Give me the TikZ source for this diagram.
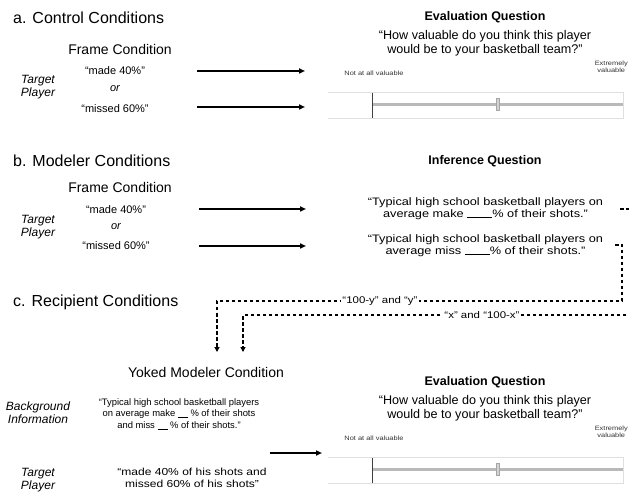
\documentclass[tikz,border=0pt]{standalone}
\usepackage{fontspec}
\setmainfont{Liberation Sans}
\newfontfamily\widefont{Liberation Sans}[FakeStretch=1.18]
\usetikzlibrary{arrows.meta,positioning}

\begin{document}
\begin{tikzpicture}[x=1pt,y=-1pt]
\useasboundingbox (0,0) rectangle (629,494);
\clip (0,0) rectangle (629,494);
\begin{scope}

\tikzstyle{head} = [anchor=west,inner sep=1pt,font=\fontsize{16}{18}\selectfont];
\tikzstyle{cond} = [inner sep=1pt,font=\fontsize{14}{16}\selectfont];
\tikzstyle{side} = [inner sep=1pt,align=center,font=\fontsize{12}{13}\selectfont\itshape];
\tikzstyle{frm} = [inner sep=1pt,font=\fontsize{11}{12}\selectfont];
\tikzstyle{qhead} = [inner sep=1pt,font=\fontsize{12.5}{14}\selectfont\bfseries];
\tikzstyle{quest} = [inner sep=1pt,align=center,font=\fontsize{12.6}{14.5}\selectfont];
\tikzstyle{infq} = [inner sep=1pt,align=center,font=\widefont\fontsize{10.8}{11.5}\selectfont];
\tikzstyle{bgq} = [inner sep=1pt,align=center,font=\fontsize{9.4}{11.5}\selectfont];
\tikzstyle{tinytext} = [inner sep=0.5pt,align=center,text=black!80,font=\widefont\fontsize{6.3}{7}\selectfont];
\tikzstyle{lab} = [fill=white,inner sep=1.5pt,font=\widefont\fontsize{9.7}{10}\selectfont];
\tikzstyle{bar} = [minimum width=295pt,minimum height=25pt,inner sep=0pt];
\tikzstyle{knob} = [draw=gray!70,fill=gray!35,minimum width=3pt,minimum height=12pt,inner sep=0pt];
\tikzstyle{flow} = [-{Triangle[length=6pt,width=5pt]},line width=1.5pt];
\tikzstyle{feed} = [-{Triangle[length=5pt,width=5pt]},line width=1.1pt,dash pattern=on 3.5pt off 2.5pt];

% a. control conditions
\node [head] (ha) at (12,18) {a. Control Conditions};
\node [cond] (frA) at (120,49) {Frame Condition};
\node [side] (tpA) at (38,87) {Target\\Player};
\node [frm] (madeA) at (115,71) {“made 40\%”};
\node [frm,font=\fontsize{11}{12}\selectfont\itshape] (orA) at (115,89) {or};
\node [frm] (missA) at (115,109) {“missed 60\%”};

\node [qhead] (evA) at (485,17) {Evaluation Question};
\node [quest,anchor=north] (qA) at ([yshift=-5pt]evA.south) {“How valuable do you think this player\\would be to your basketball team?”};
\node [tinytext] (notA) at (374,73) {Not at all valuable};
\node [tinytext,anchor=east] (extA) at (628.5,66.5) {Extremely\\valuable};
\node [bar] (sldA) at (475.5,105.5) {};
\draw [gray!25,thick] (sldA.north west) -- (sldA.north east) -- (sldA.south east) -- (sldA.south west);
\draw [gray!55,line width=2.5pt] ([xshift=45pt,yshift=1pt]sldA.west) -- ([yshift=1pt]sldA.east);
\draw [black!75,line width=1.2pt] ([xshift=45pt]sldA.north west) -- ([xshift=45pt]sldA.south west);
\node [knob] (knA) at ([xshift=22.5pt,yshift=1pt]sldA.center) {};

\coordinate (inA1) at (197,71);
\coordinate (outA1) at (305,71);
\coordinate (inA2) at (197,107);
\coordinate (outA2) at (305,107);
\draw [flow] (inA1) -- (outA1);
\draw [flow] (inA2) -- (outA2);

% b. modeler conditions
\node [head] (hb) at (12,161) {b. Modeler Conditions};
\node [cond] (frB) at (120,187) {Frame Condition};
\node [side] (tpB) at (38,227) {Target\\Player};
\node [frm] (madeB) at (116,210) {“made 40\%”};
\node [frm,font=\fontsize{11}{12}\selectfont\itshape] (orB) at (116,227) {or};
\node [frm] (missB) at (116,246) {“missed 60\%”};

\node [qhead] (infH) at (485,161) {Inference Question};
\node [infq] (inf1) at (485.5,208.5) {“Typical high school basketball players on\\average make \rule[-1pt]{25pt}{0.6pt}\% of their shots.”};
\node [infq] (inf2) at (485.5,245.5) {“Typical high school basketball players on\\average miss \rule[-1pt]{25pt}{0.6pt}\% of their shots.”};

\coordinate (inB1) at (199,209);
\coordinate (outB1) at (306,209);
\coordinate (inB2) at (199,246);
\coordinate (outB2) at (306,246);
\draw [flow] (inB1) -- (outB1);
\draw [flow] (inB2) -- (outB2);

% c. recipient conditions
\node [head] (hc) at (12,302) {c. Recipient Conditions};

\coordinate (fbY) at (615,245);
\coordinate (fbX) at (620,209);
\coordinate (dnY) at (217,352);
\coordinate (dnX) at (243,352);
\draw [feed] (fbY) -| (622,301) -| (dnY);
\draw [feed] (fbX) -- (645,209) |- (243,315) -- (dnX);
\node [lab] (labY) at (380,301) {“100-y” and “y”};
\node [lab] (labX) at (482,315) {“x” and “100-x”};

\node [cond] (ymc) at (206,372) {Yoked Modeler Condition};
\node [side] (bgI) at (38,413) {Background\\Information};
\node [bgq] (bgQ) at (179,414) {“Typical high school basketball players\\on average make \rule[-1pt]{10pt}{0.6pt} \% of their shots\\and miss \rule[-1pt]{10pt}{0.6pt} \% of their shots.”};
\node [side] (tpC) at (38,480) {Target\\Player};
\node [infq,font=\widefont\fontsize{10.2}{12}\selectfont] (tqC) at (192,478) {“made 40\% of his shots and\\missed 60\% of his shots”};

\node [qhead] (evC) at ([yshift=-365pt]evA) {Evaluation Question};
\node [quest,anchor=north] (qC) at ([yshift=-5pt]evC.south) {“How valuable do you think this player\\would be to your basketball team?”};
\node [tinytext] (notC) at ([yshift=-365pt]notA) {Not at all valuable};
\node [tinytext,anchor=east] (extC) at ([yshift=-365pt]extA.east) {Extremely\\valuable};
\node [bar] (sldC) at ([yshift=-365pt]sldA) {};
\draw [gray!25,thick] (sldC.north west) -- (sldC.north east) -- (sldC.south east) -- (sldC.south west);
\draw [gray!55,line width=2.5pt] ([xshift=45pt,yshift=1pt]sldC.west) -- ([yshift=1pt]sldC.east);
\draw [black!75,line width=1.2pt] ([xshift=45pt]sldC.north west) -- ([xshift=45pt]sldC.south west);
\node [knob] (knC) at ([xshift=22.5pt,yshift=1pt]sldC.center) {};

\coordinate (inC) at (270,453);
\coordinate (outC) at (322,453);
\draw [flow] (inC) -- (outC);

\end{scope}
\end{tikzpicture}
\end{document}
